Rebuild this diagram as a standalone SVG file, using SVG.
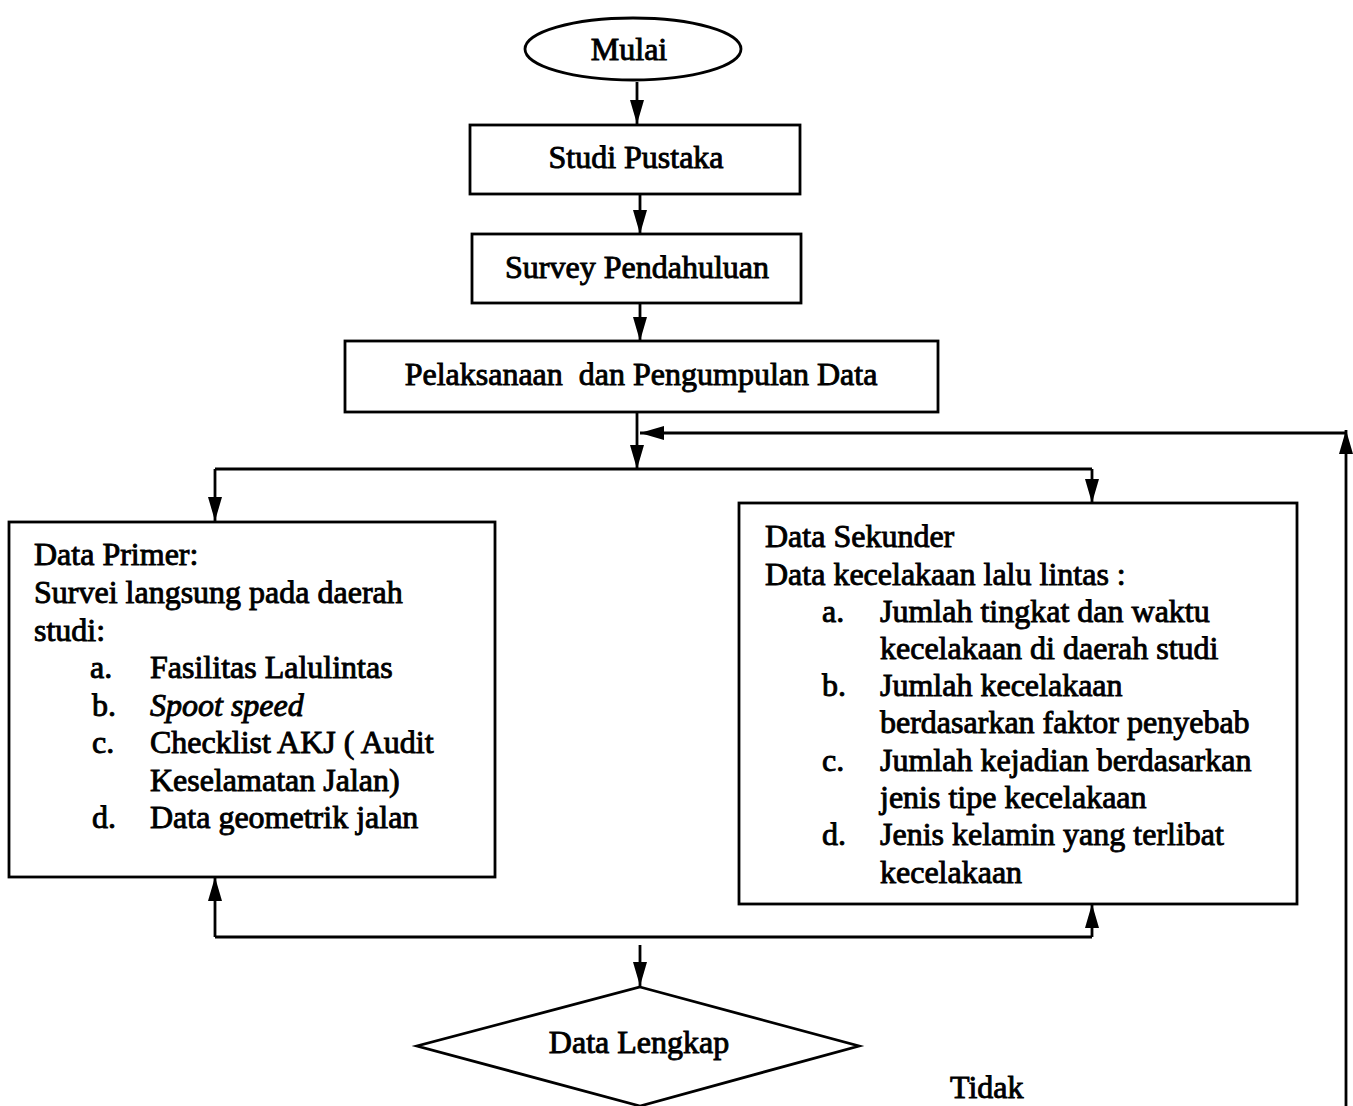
<svg xmlns="http://www.w3.org/2000/svg" width="1353" height="1106" viewBox="0 0 1353 1106">
<style>
text{font-family:"Liberation Serif","Times New Roman",serif;font-size:32px;fill:#000;stroke:#000;stroke-width:0.9}
.c{text-anchor:middle}
.shape{fill:#fff;stroke:#000;stroke-width:2.8}
.ln{fill:none;stroke:#000;stroke-width:2.8}
.ar{fill:none;stroke:#000;stroke-width:2.8;marker-end:url(#ah)}
</style>
<defs>
<marker id="ah" markerUnits="userSpaceOnUse" markerWidth="26" markerHeight="16" refX="24" refY="8" orient="auto">
<path d="M0,1 L24,8 L0,15 Z" fill="#000"/>
</marker>
</defs>
<rect width="1353" height="1106" fill="#fff"/>
<g id="connectors">
<path class="ar" d="M637,82 V124"/>
<path class="ar" d="M640,195 V234"/>
<path class="ar" d="M640,304 V341"/>
<path class="ar" d="M637,412 V469"/>
<path class="ar" d="M1346,1106 V430"/>
<path class="ar" d="M1346,433 H640"/>
<path class="ln" d="M215,469 H1092"/>
<path class="ar" d="M215,469 V521"/>
<path class="ar" d="M1092,469 V503"/>
<path class="ln" d="M215,937 H1092"/>
<path class="ar" d="M215,937 V877"/>
<path class="ar" d="M1092,937 V904"/>
<path class="ar" d="M640,945 V986"/>
</g>
<g id="mulai">
<ellipse class="shape" cx="633" cy="49" rx="108" ry="31"/>
<text class="c" x="629" y="60">Mulai</text>
</g>
<g id="studi-pustaka">
<rect class="shape" x="470" y="125" width="330" height="69"/>
<text class="c" x="636" y="168">Studi Pustaka</text>
</g>
<g id="survey-pendahuluan">
<rect class="shape" x="472" y="234" width="329" height="69"/>
<text class="c" x="637" y="278">Survey Pendahuluan</text>
</g>
<g id="pelaksanaan">
<rect class="shape" x="345" y="341" width="593" height="71"/>
<text class="c" x="641" y="385" xml:space="preserve">Pelaksanaan  dan Pengumpulan Data</text>
</g>
<g id="data-primer">
<rect class="shape" x="9" y="522" width="486" height="355"/>
<text x="34" y="565">Data Primer:</text>
<text x="34" y="603">Survei langsung pada daerah</text>
<text x="34" y="641">studi:</text>
<text x="90" y="678">a.</text><text x="150" y="678">Fasilitas Lalulintas</text>
<text x="92" y="716">b.</text><text x="150" y="716" font-style="italic">Spoot speed</text>
<text x="92" y="753">c.</text><text x="150" y="753">Checklist AKJ ( Audit</text>
<text x="150" y="791">Keselamatan Jalan)</text>
<text x="92" y="828">d.</text><text x="150" y="828">Data geometrik jalan</text>
</g>
<g id="data-sekunder">
<rect class="shape" x="739" y="503" width="558" height="401"/>
<text x="765" y="547">Data Sekunder</text>
<text x="765" y="585">Data kecelakaan lalu lintas :</text>
<text x="822" y="622">a.</text><text x="880" y="622">Jumlah tingkat dan waktu</text>
<text x="880" y="659">kecelakaan di daerah studi</text>
<text x="822" y="696">b.</text><text x="880" y="696">Jumlah kecelakaan</text>
<text x="880" y="733">berdasarkan faktor penyebab</text>
<text x="822" y="771">c.</text><text x="880" y="771">Jumlah kejadian berdasarkan</text>
<text x="880" y="808">jenis tipe kecelakaan</text>
<text x="822" y="845">d.</text><text x="880" y="845">Jenis kelamin yang terlibat</text>
<text x="880" y="883">kecelakaan</text>
</g>
<g id="data-lengkap">
<polygon class="shape" points="640,987 859,1046 640,1106 417,1046"/>
<text class="c" x="639" y="1053">Data Lengkap</text>
</g>
<g id="label-tidak">
<text x="950" y="1098">Tidak</text>
</g>
</svg>
